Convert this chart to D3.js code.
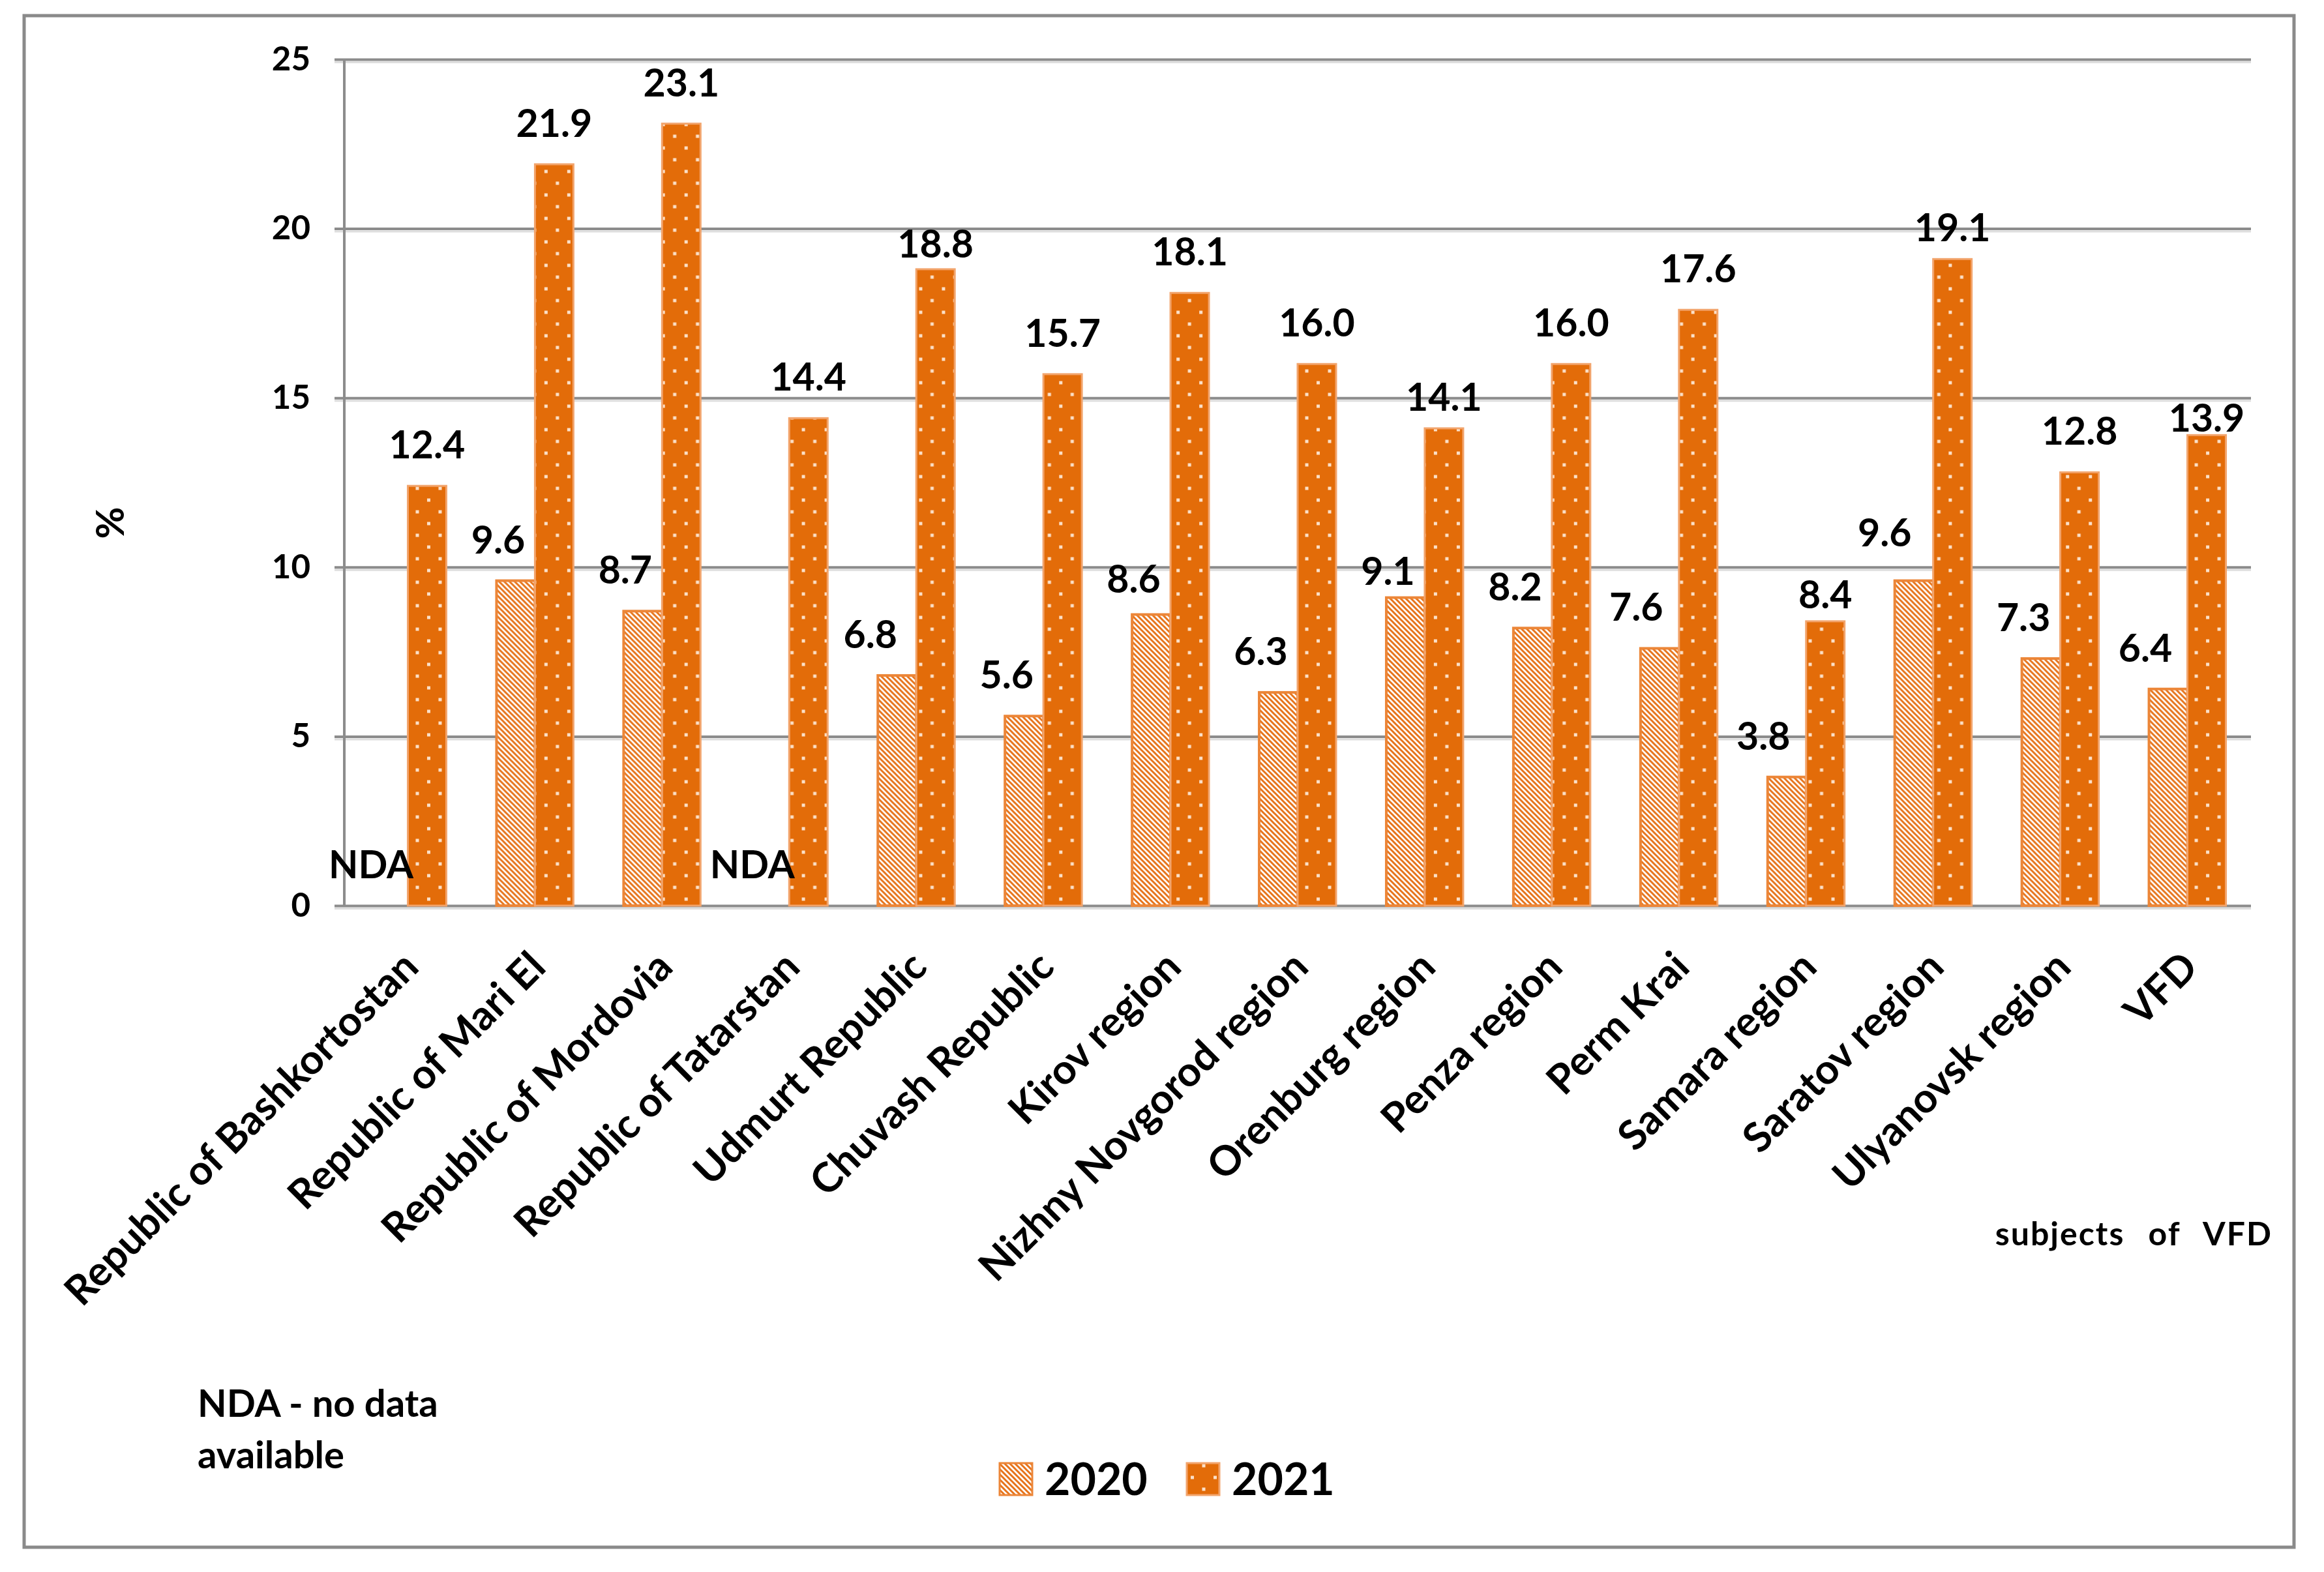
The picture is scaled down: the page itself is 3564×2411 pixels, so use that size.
<!DOCTYPE html>
<html>
<head>
<meta charset="utf-8">
<script src="https://cdn.jsdelivr.net/npm/d3@7"></script>
<style>
  body { margin: 0; background: #fff; }
  text { font-family: "Lato", "Carlito", "DejaVu Sans", sans-serif; fill: #000; }
</style>
</head>
<body>
<svg id="chart" width="3564" height="2411"></svg>
<script>
// data
const categories = [
  "Republic of Bashkortostan", "Republic of Mari El", "Republic of Mordovia",
  "Republic of Tatarstan", "Udmurt Republic", "Chuvash Republic", "Kirov region",
  "Nizhny Novgorod region", "Orenburg region", "Penza region", "Perm Krai",
  "Samara region", "Saratov region", "Ulyanovsk region", "VFD"
];
const years = ["2020", "2021"];
const values2020 = [null, 9.6, 8.7, null, 6.8, 5.6, 8.6, 6.3, 9.1, 8.2, 7.6, 3.8, 9.6, 7.3, 6.4];
const values2021 = [12.4, 21.9, 23.1, 14.4, 18.8, 15.7, 18.1, 16.0, 14.1, 16.0, 17.6, 8.4, 19.1, 12.8, 13.9];
const yTicks = [0, 5, 10, 15, 20, 25];
const noDataText = "NDA";

// hand-placed label nudges as in the original (gap above the bar, x shift)
const gap2021 = {4: 18, 8: 27, 11: 20, 12: 27, 14: 5};
const gap2020 = {8: 20, 12: 53, 6: 33};
const shift2020 = {4: -41, 10: -36, 11: -36, 12: -45, 14: -35};

const svg = d3.select("#chart"),
  width = +svg.attr("width"),
  height = +svg.attr("height");

const plot = {left: 528, right: 3452, top: 91, bottom: 1389};
const orange = "#E36C09";

const x0 = d3.scaleBand()
  .domain(categories)
  .range([plot.left, plot.right])
  .paddingInner(0.395)
  .paddingOuter(0.1975);

const x1 = d3.scaleBand()
  .domain(years)
  .range([0, x0.bandwidth()]);

const y = d3.scaleLinear()
  .domain([0, 25])
  .range([plot.bottom, plot.top]);

// background + outer frame
svg.append("rect")
  .attr("width", width)
  .attr("height", height)
  .attr("fill", "#fff");

svg.append("rect")
  .attr("x", 37).attr("y", 24)
  .attr("width", 3481).attr("height", 2349)
  .attr("fill", "none")
  .attr("stroke", "#8a8a8a")
  .attr("stroke-width", 5);

// patterns
const defs = svg.append("defs");

const hatch = defs.append("pattern")
  .attr("id", "hatch2020")
  .attr("patternUnits", "userSpaceOnUse")
  .attr("width", 8).attr("height", 8);
hatch.append("rect").attr("width", 8).attr("height", 8).attr("fill", "#fff");
hatch.append("path")
  .attr("d", "M-1,-1 L9,9 M-1,7 L1,9 M7,-1 L9,1")
  .attr("stroke", "#E6731A")
  .attr("stroke-width", 3);

function dotPattern(id, x0pos, y0pos) {
  const p = defs.append("pattern")
    .attr("id", id)
    .attr("patternUnits", "userSpaceOnUse")
    .attr("x", x0pos).attr("y", y0pos)
    .attr("width", 35).attr("height", 36);
  p.append("rect").attr("width", 35).attr("height", 36).attr("fill", orange);
  p.append("rect").attr("x", 5.5).attr("y", 5.5).attr("width", 5).attr("height", 5).attr("fill", "#fbe0c8");
  p.append("rect").attr("x", 23).attr("y", 23.5).attr("width", 5).attr("height", 5).attr("fill", "#fbe0c8");
  return "url(#" + id + ")";
}

// grid lines and y tick labels
const yAxis = d3.axisLeft(y)
  .tickValues(yTicks)
  .tickSize(-(plot.right - 513))
  .tickPadding(37);

const gy = svg.append("g")
  .attr("transform", "translate(513,0)")
  .call(yAxis);
gy.select(".domain").remove();
gy.selectAll(".tick line")
  .attr("stroke", "#8c8c8c")
  .attr("stroke-width", 4);
gy.selectAll(".tick")
  .insert("line", ":first-child")
  .attr("x1", 0).attr("x2", plot.right - 513)
  .attr("y1", 4).attr("y2", 4)
  .attr("stroke", "#dedede")
  .attr("stroke-width", 3);
gy.selectAll(".tick text")
  .attr("font-size", 51)
  .attr("font-weight", "bold")
  .attr("font-family", "Lato, Carlito, sans-serif")
  .attr("fill", "#000");

// vertical axis line
svg.append("line")
  .attr("x1", plot.left).attr("x2", plot.left)
  .attr("y1", plot.top).attr("y2", plot.bottom)
  .attr("stroke", "#8c8c8c")
  .attr("stroke-width", 4);

// bars
const groups = svg.append("g")
  .selectAll("g")
  .data(categories)
  .join("g")
  .attr("transform", d => `translate(${x0(d)},0)`);

groups.append("rect")
  .filter((d, i) => values2020[i] != null)
  .attr("x", x1("2020"))
  .attr("y", (d) => y(values2020[categories.indexOf(d)]))
  .attr("width", x1.bandwidth())
  .attr("height", (d) => y(0) - y(values2020[categories.indexOf(d)]))
  .attr("fill", "url(#hatch2020)")
  .attr("stroke", "#EC8638")
  .attr("stroke-width", 4);

groups.append("rect")
  .attr("x", x1("2021"))
  .attr("y", (d, i) => y(values2021[i]))
  .attr("width", x1.bandwidth())
  .attr("height", (d, i) => y(0) - y(values2021[i]))
  .attr("fill", (d, i) => dotPattern("dots" + i, x0(d) + x1("2021"), plot.bottom))
  .attr("stroke", "#F2A46C")
  .attr("stroke-width", 3);

// value labels
groups.append("text")
  .attr("x", (d, i) => x1("2020") + x1.bandwidth() / 2 + (shift2020[i] ?? -27))
  .attr("y", (d, i) => y(values2020[i] ?? 0) - (gap2020[i] ?? 42))
  .attr("text-anchor", "middle")
  .attr("font-size", 59)
  .attr("font-weight", "bold")
  .text((d, i) => values2020[i] == null ? noDataText : values2020[i].toFixed(1));

groups.append("text")
  .attr("x", x1("2021") + x1.bandwidth() / 2)
  .attr("y", (d, i) => y(values2021[i]) - (gap2021[i] ?? 42))
  .attr("text-anchor", "middle")
  .attr("font-size", 59)
  .attr("font-weight", "bold")
  .text((d, i) => values2021[i].toFixed(1));

// rotated category labels
svg.append("g")
  .selectAll("text")
  .data(categories)
  .join("text")
  .attr("transform", d => `translate(${x0(d) + x0.bandwidth() / 2 + 4},${plot.bottom + 82}) rotate(-45)`)
  .attr("text-anchor", "end")
  .attr("dy", "0.35em")
  .attr("font-size", 63)
  .attr("font-weight", "bold")
  .text(d => d);

// y axis title
svg.append("text")
  .attr("transform", "translate(190,802) rotate(-90)")
  .attr("text-anchor", "middle")
  .attr("font-size", 60)
  .attr("font-weight", "bold")
  .text("%");

// x axis title
svg.append("text")
  .attr("x", 3485).attr("y", 1910)
  .attr("text-anchor", "end")
  .attr("font-size", 50)
  .attr("font-weight", "bold")
  .attr("letter-spacing", 2)
  .attr("word-spacing", 22)
  .text("subjects of VFD");

// note
const note = svg.append("text")
  .attr("x", 303).attr("y", 2173)
  .attr("font-size", 58)
  .attr("font-weight", "bold");
note.append("tspan").attr("x", 303).text("NDA - no data");
note.append("tspan").attr("x", 303).attr("dy", 79).text("available");

// legend
const legendItems = [
  {year: "2020", x: 1533, fill: "url(#hatch2020)", stroke: "#EC8638"},
  {year: "2021", x: 1820, fill: dotPattern("dotsLegend", 1820 - 17, 2244 - 4), stroke: "#F2A46C"}
];
const legend = svg.append("g")
  .selectAll("g")
  .data(legendItems)
  .join("g");
legend.append("rect")
  .attr("x", d => d.x).attr("y", 2244)
  .attr("width", 50).attr("height", 49)
  .attr("fill", d => d.fill)
  .attr("stroke", d => d.stroke)
  .attr("stroke-width", 3);
legend.append("text")
  .attr("x", d => d.x + 69).attr("y", 2293)
  .attr("font-size", 68)
  .attr("font-weight", "bold")
  .text(d => d.year);
</script>
</body>
</html>
